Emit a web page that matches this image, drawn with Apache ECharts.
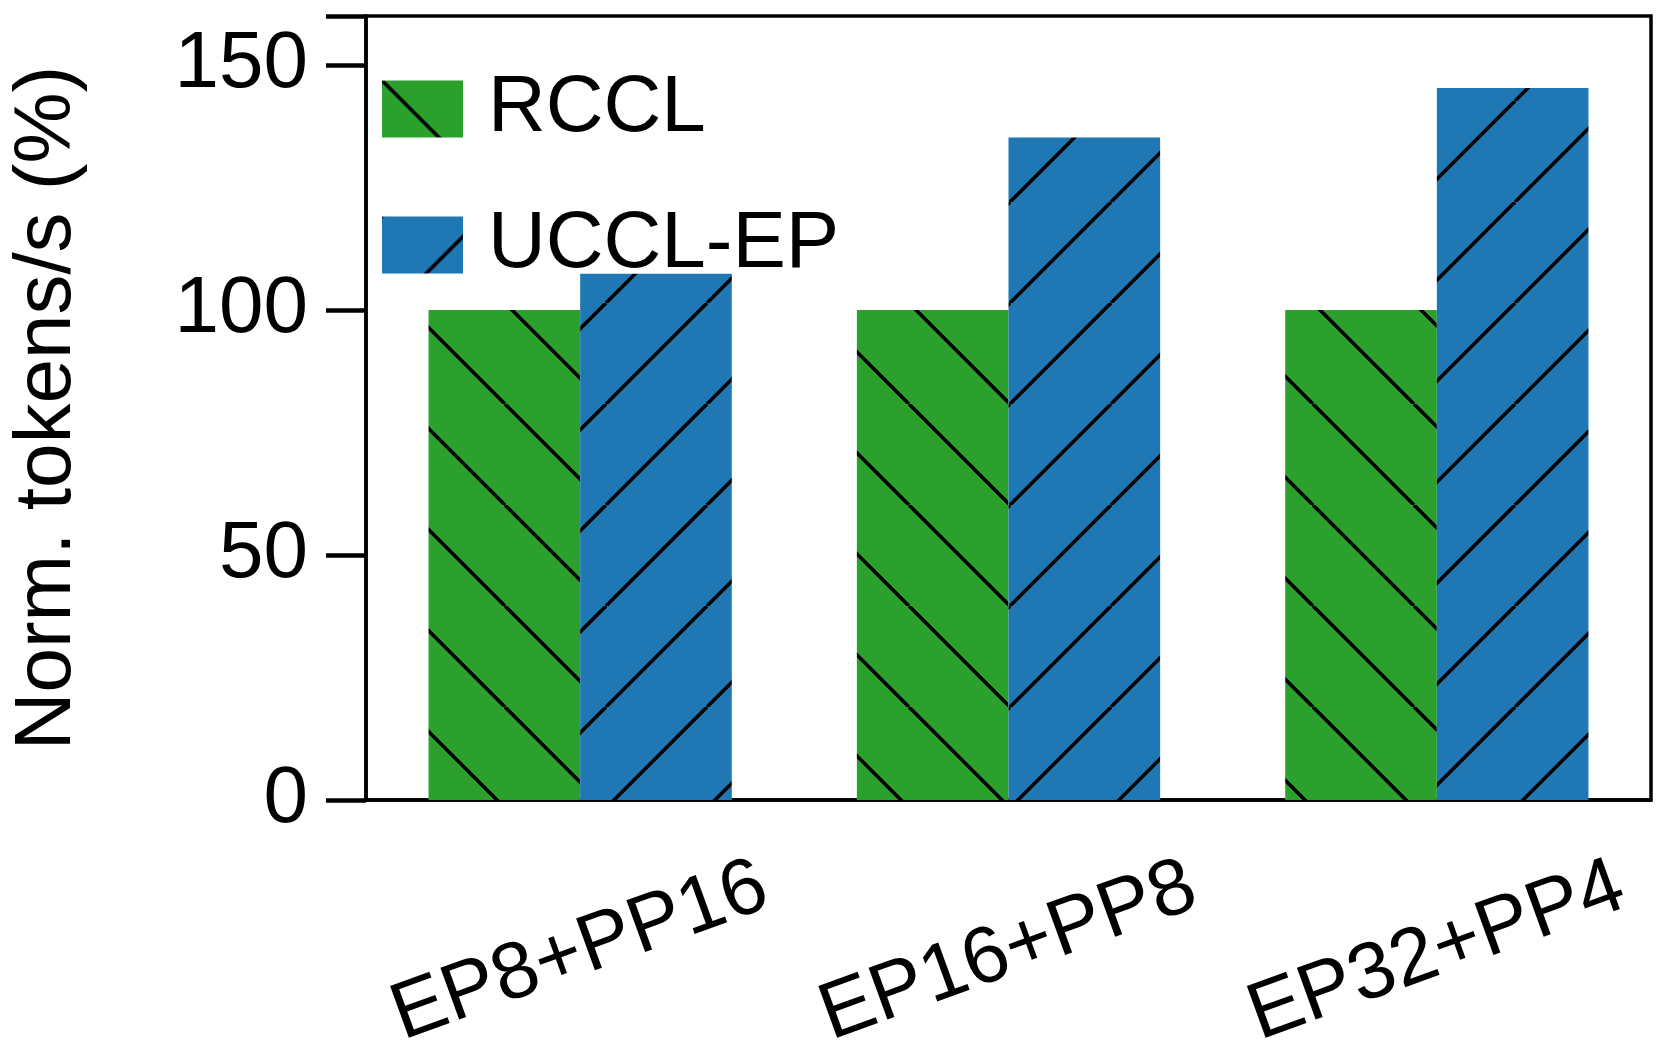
<!DOCTYPE html>
<html>
<head>
<meta charset="utf-8">
<script src="https://cdn.jsdelivr.net/npm/echarts@6/dist/echarts.min.js"></script>
<style>html,body{margin:0;padding:0;background:#fff}#c{width:1665px;height:1058px}</style>
</head>
<body>
<div id="c"></div>
<script>
var categories = ['EP8+PP16', 'EP16+PP8', 'EP32+PP4'];
var rccl = [100, 100, 100];
var ucclEp = [107.4, 135.2, 145.3];
var yTicks = [0, 50, 100, 150];

// hatch tile: fill colour + one diagonal line per tile
function hatch(fill, dir) {
  var s = 101;
  var c = document.createElement('canvas');
  c.width = s; c.height = s;
  var g = c.getContext('2d');
  g.fillStyle = fill;
  g.fillRect(0, 0, s, s);
  g.strokeStyle = '#000';
  g.lineWidth = 3.6;
  for (var k = -1; k <= 1; k++) {
    g.beginPath();
    if (dir > 0) { g.moveTo(k * s, 0); g.lineTo(k * s + s, s); }
    else { g.moveTo(k * s, s); g.lineTo(k * s + s, 0); }
    g.stroke();
  }
  return { image: c, repeat: 'repeat' };
}

var chart = echarts.init(document.getElementById('c'));
var font = 'Liberation Sans';
chart.setOption({
  animation: false,
  textStyle: { fontFamily: font },
  legend: {
    data: ['RCCL', 'UCCL-EP'],
    icon: 'rect',
    orient: 'vertical',
    left: 377, top: 64,
    itemWidth: 81, itemHeight: 57, itemGap: 56,
    textStyle: { fontSize: 80, color: '#000', fontFamily: font, padding: [0, 0, 0, 20] }
  },
  grid: { left: 327, right: 14, top: 16, bottom: 249, show: true, borderColor: '#000', borderWidth: 3.5 },
  xAxis: {
    type: 'category',
    data: categories,
    axisLine: { lineStyle: { color: '#000', width: 3.5 } },
    axisTick: { alignWithLabel: true, length: 40, lineStyle: { color: '#000', width: 4.5 } },
    axisLabel: { rotate: 20, align: 'center', verticalAlign: 'middle', margin: 152, fontSize: 80, color: '#000', fontFamily: font }
  },
  yAxis: {
    type: 'value', min: 0, max: 160, interval: 50,
    name: 'Norm. tokens/s (%)', nameLocation: 'middle', nameGap: 278,
    nameTextStyle: { fontSize: 80, color: '#000', fontFamily: font },
    axisLine: { show: true, lineStyle: { color: '#000', width: 3.5 } },
    axisTick: { show: true, length: 40, lineStyle: { color: '#000', width: 4.5 } },
    splitLine: { show: false },
    axisLabel: {
      fontSize: 80, color: '#000', margin: 58, fontFamily: font,
      formatter: function (v) { return yTicks.indexOf(v) >= 0 ? String(v) : ''; }
    }
  },
  series: [
    { name: 'RCCL', type: 'bar', data: rccl, barWidth: '35.4%', barGap: '0%', itemStyle: { color: hatch('#2ca02c', 1) } },
    { name: 'UCCL-EP', type: 'bar', data: ucclEp, barWidth: '35.4%', itemStyle: { color: hatch('#1f77b4', -1) } }
  ]
});
</script>
</body>
</html>
